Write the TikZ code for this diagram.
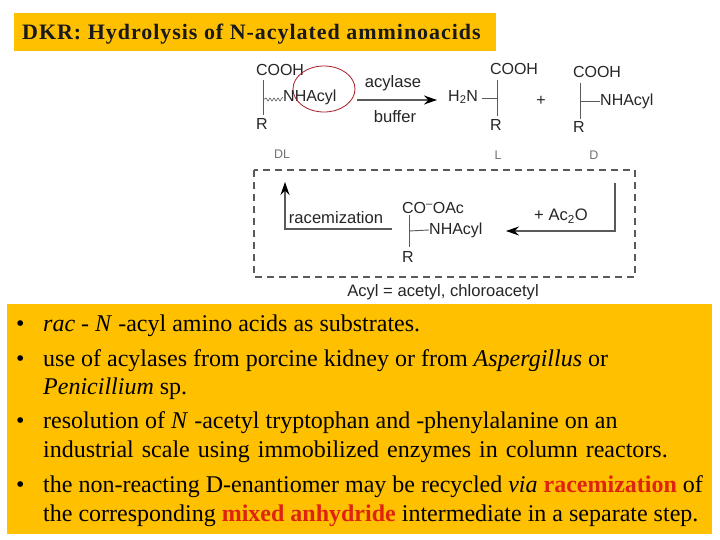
\documentclass[tikz,border=0pt]{standalone}
\usepackage{fontspec}
\setmainfont{Liberation Serif}
\setsansfont{Liberation Sans}
\usetikzlibrary{arrows.meta}
\definecolor{amber}{RGB}{255,192,0}
\definecolor{bond}{RGB}{90,90,90}
\definecolor{hl}{RGB}{222,35,15}
\definecolor{circ}{RGB}{170,30,40}
\tikzset{
  body/.style={anchor=base west,inner sep=0pt,font=\fontsize{24}{26}\selectfont,text=black},
  chem/.style={inner sep=0pt,font=\sffamily\fontsize{16}{18}\selectfont,text=black!85},
  lab/.style={inner sep=0pt,font=\sffamily\fontsize{16.6}{18}\selectfont,text=black!85},
  tag/.style={inner sep=0pt,font=\sffamily\fontsize{12.5}{15}\selectfont,text=black!55},
  bondline/.style={draw=bond,line width=0.9pt},
  flow/.style={draw=bond,line width=1.1pt,-{Stealth[length=13pt,width=9pt,color=black]}},
  box/.style={draw=bond,line width=1.2pt,dash pattern=on 7pt off 5pt},
}
\begin{document}
\begin{tikzpicture}[x=1pt,y=-1pt]
\useasboundingbox (0,0) rectangle (720,540);
\fill[white] (0,0) rectangle (720,540);
% panels
\fill[amber] (14,13) rectangle (496,51);
\fill[amber] (7,304) rectangle (712,534);
\node[anchor=base west,inner sep=0pt,font=\bfseries\fontsize{22}{24}\selectfont\addfontfeature{LetterSpace=4.4},text=black!90] (title) at (22,40) {DKR: Hydrolysis of N-acylated amminoacids};
% top: DL
\node[chem] (c1) at (280,70) {COOH};
\node[chem] (r1) at (262,124) {R};
\node[chem,anchor=west] (n1) at (283,97) {NHAcyl};
\node[tag] (dl) at (282,154) {DL};
\coordinate (j1) at (263,100);
\draw[bondline] (263,80) -- (263,115);
\draw[bondline,line width=0.6pt] (j1) -- ++(3,-2) -- ++(2,3) -- ++(2,-3) -- ++(2,3) -- ++(2,-3) -- ++(2,3) -- ++(2,-3) -- ++(2,3) -- ++(2,-3) -- (n1.west);
\draw[circ,line width=0.8pt] (324,89) ellipse (31pt and 23pt);
% acylase arrow
\node[lab] (acy) at (393,83) {acylase};
\node[lab] (buf) at (395,117) {buffer};
\coordinate (ar1) at (357,100);
\node[chem,anchor=west] (h2n) at (448,97) {H\textsubscript{2}N};
\draw[flow] (ar1) -- (437,100);
% L
\node[chem] (c2) at (514,69) {COOH};
\node[chem] (r2) at (496,125) {R};
\node[tag] (l) at (498,155) {L};
\draw[bondline] (497,80) -- (497,116);
\draw[bondline] (482,98) -- (497,98);
\node[chem] (plus) at (541,101) {+};
% D
\node[chem] (c3) at (597,72) {COOH};
\node[chem,anchor=west] (n3) at (600,101) {NHAcyl};
\node[chem] (r3) at (579,127) {R};
\node[tag] (d) at (594,155) {D};
\draw[bondline] (580,83) -- (580,119);
\draw[bondline] (580,101) -- (n3.west);
% dashed box
\draw[box] (254,170) rectangle (635,277);
% racemization
\node[lab] (rac) at (336,218) {racemization};
\node[chem] (c4) at (433,208) {CO\textsuperscript{--}OAc};
\node[chem,anchor=west] (n4) at (429,230) {NHAcyl};
\node[chem] (r4) at (408,257) {R};
\draw[bondline] (409,215) -- (409,247);
\draw[bondline] (409,231) -- (n4.west);
\coordinate (rs) at (392,229);
\coordinate (rc) at (285,229);
\coordinate (re) at (285,182);
\draw[flow] (rs) -- (rc) -- (re);
% Ac2O
\node[lab] (ac) at (561,216) {+ Ac\textsubscript{2}O};
\coordinate (as) at (615,183);
\coordinate (ac2) at (615,231);
\coordinate (ae) at (506,231);
\draw[flow] (as) -- (ac2) -- (ae);
\node[lab] (acyl) at (443,292) {Acyl = acetyl, chloroacetyl};
% bullets
\node[body] (b1) at (16,331) {•};
\node[body] (t1) at (43,331) {\textit{rac} - \textit{N} -acyl amino acids as substrates.};
\node[body] (b2) at (16,366) {•};
\node[body] (t2) at (43,366) {use of acylases from porcine kidney or from \textit{Aspergillus} or};
\node[body] (t2b) at (43,394) {\textit{Penicillium} sp.};
\node[body] (b3) at (16,428) {•};
\node[body] (t3) at (43,428) {resolution of \textit{N} -acetyl tryptophan and -phenylalanine on an};
\node[body] (t3b) at (43,457) {\spaceskip=8pt industrial scale using immobilized enzymes in column reactors.};
\node[body] (b4) at (16,492) {•};
\node[body] (t4) at (43,492) {the non-reacting D-enantiomer may be recycled \textit{via} \textcolor{hl}{\textbf{racemization}} of};
\node[body] (t4b) at (43,521) {the corresponding \textcolor{hl}{\textbf{mixed anhydride}} intermediate in a separate step.};
\end{tikzpicture}
\end{document}
